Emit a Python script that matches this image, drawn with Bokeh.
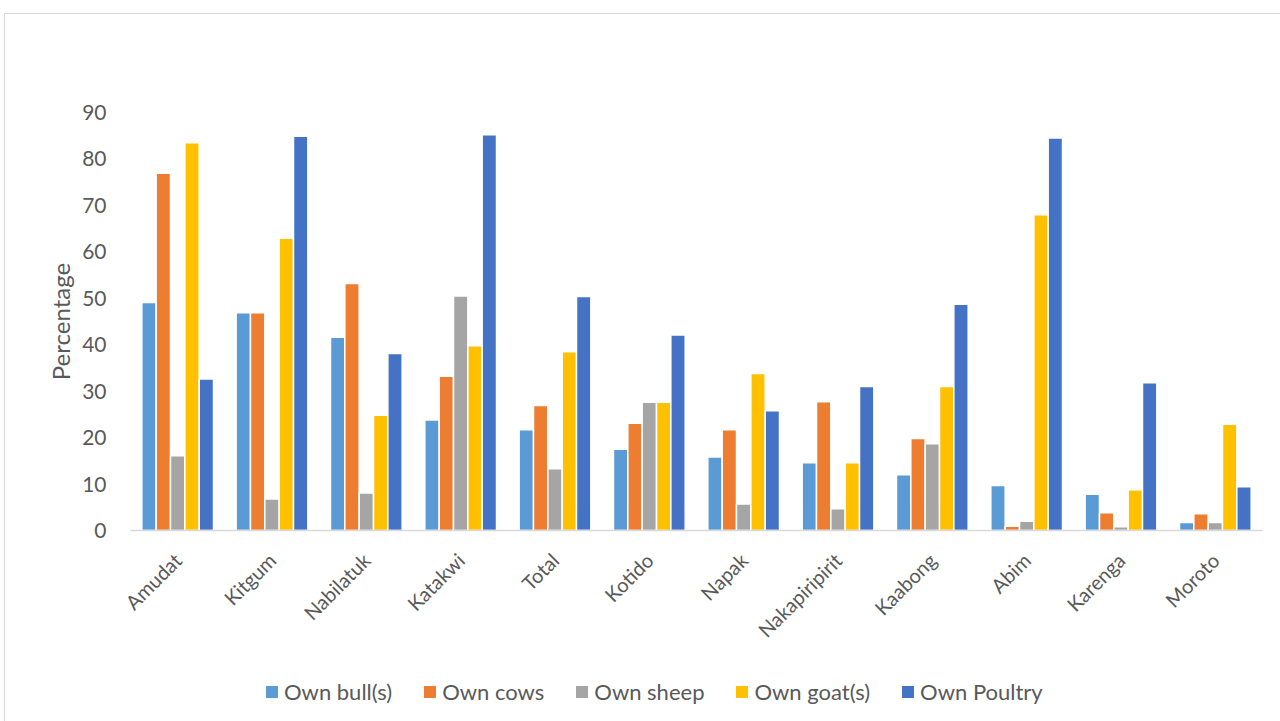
import numpy as np
from bokeh.plotting import figure
from bokeh.layouts import column
from bokeh.models import FactorRange, Range1d, SingleIntervalTicker, Legend, LegendItem
from bokeh.transform import dodge
from bokeh.embed import file_html
from bokeh.resources import INLINE
from math import pi

districts = ["Amudat", "Kitgum", "Nabilatuk", "Katakwi", "Total", "Kotido", "Napak",
             "Nakapiripirit", "Kaabong", "Abim", "Karenga", "Moroto"]
own_bulls = [49.1, 46.9, 41.6, 23.8, 21.7, 17.5, 15.8, 14.6, 12.0, 9.7, 7.8, 1.7]
own_cows = [76.9, 46.9, 53.2, 33.2, 26.9, 23.1, 21.7, 27.7, 19.8, 0.9, 3.8, 3.6]
own_sheep = [16.1, 6.8, 8.1, 50.5, 13.3, 27.6, 5.7, 4.7, 18.7, 2.0, 0.8, 1.7]
own_goats = [83.5, 62.9, 24.8, 39.8, 38.5, 27.6, 33.8, 14.6, 31.0, 68.0, 8.8, 22.9]
own_poultry = [32.6, 84.9, 38.1, 85.2, 50.4, 42.1, 25.8, 31.0, 48.7, 84.5, 31.8, 9.4]

series_names = ["Own bull(s)", "Own cows", "Own sheep", "Own goat(s)", "Own Poultry"]
series_values = [own_bulls, own_cows, own_sheep, own_goats, own_poultry]
colors = ["#5B9BD5", "#ED7D31", "#A5A5A5", "#FFC000", "#4472C4"]

FONT = "Lato"
TEXT = "#595959"

# ---- main chart ----
p = figure(width=1275, height=640, x_range=FactorRange(*districts, range_padding=0),
           y_range=Range1d(0, 90), output_backend="svg", toolbar_location=None,
           min_border_left=125, min_border_right=18, min_border_top=98, min_border_bottom=124)

data = {"cat": districts}
for n, v in zip(series_names, series_values):
    data[n] = v

offsets = [-0.304, -0.152, 0.0, 0.152, 0.304]
for n, c, off in zip(series_names, colors, offsets):
    p.vbar(x=dodge("cat", off, range=p.x_range), top=n, width=0.152, source=data,
           fill_color=c, line_color="white", line_width=1.5)

p.outline_line_color = None
p.xgrid.grid_line_color = None
p.ygrid.grid_line_color = None
p.background_fill_color = "white"
p.border_fill_color = "white"

xa = p.xaxis[0]
xa.axis_line_color = "#D9D9D9"
xa.axis_line_width = 1.5
xa.major_tick_line_color = None
xa.minor_tick_line_color = None
xa.major_label_orientation = pi / 4
xa.major_label_text_font = FONT
xa.major_label_text_font_size = "20px"
xa.major_label_text_color = TEXT
xa.major_label_standoff = 20

ya = p.yaxis[0]
ya.ticker = SingleIntervalTicker(interval=10)
ya.axis_line_color = None
ya.major_tick_line_color = None
ya.minor_tick_line_color = None
ya.major_tick_out = 0
ya.major_label_standoff = 20
ya.major_label_text_font = FONT
ya.major_label_text_font_size = "21px"
ya.major_label_text_color = TEXT
ya.axis_label = "Percentage"
ya.axis_label_text_font = FONT
ya.axis_label_text_font_size = "24px"
ya.axis_label_text_font_style = "normal"
ya.axis_label_text_color = TEXT
ya.axis_label_standoff = 4

# ---- legend strip (swatch renderers hold no drawable point) ----
lf = figure(width=1275, height=67, x_range=Range1d(0, 1), y_range=Range1d(0, 1),
            x_axis_type=None, y_axis_type=None, output_backend="svg", toolbar_location=None,
            min_border_left=0, min_border_right=0, min_border_top=0, min_border_bottom=0)
lf.outline_line_color = None
lf.xgrid.grid_line_color = None
lf.ygrid.grid_line_color = None
items = []
for n, c in zip(series_names, colors):
    r = lf.vbar(x=np.array([np.nan]), top=np.array([np.nan]), width=0.1,
                fill_color=c, line_color=None)
    items.append(LegendItem(label=n, renderers=[r]))

lg = Legend(items=items, orientation="horizontal", location=(134, 16))
lg.glyph_width = 15
lg.glyph_height = 15
lg.label_standoff = 5
lg.spacing = 30
lg.padding = 0
lg.margin = 0
lg.border_line_color = None
lg.background_fill_alpha = 0
lg.label_text_font = FONT
lg.label_text_font_size = "22px"
lg.label_text_color = TEXT
lf.add_layout(lg)

layout = column(p, lf, spacing=0, margin=(13, 0, 0, 4),
                styles={"border-top": "1px solid #D9D9D9", "border-left": "1px solid #D9D9D9"})

open("out.html", "w").write(file_html(layout, INLINE))
